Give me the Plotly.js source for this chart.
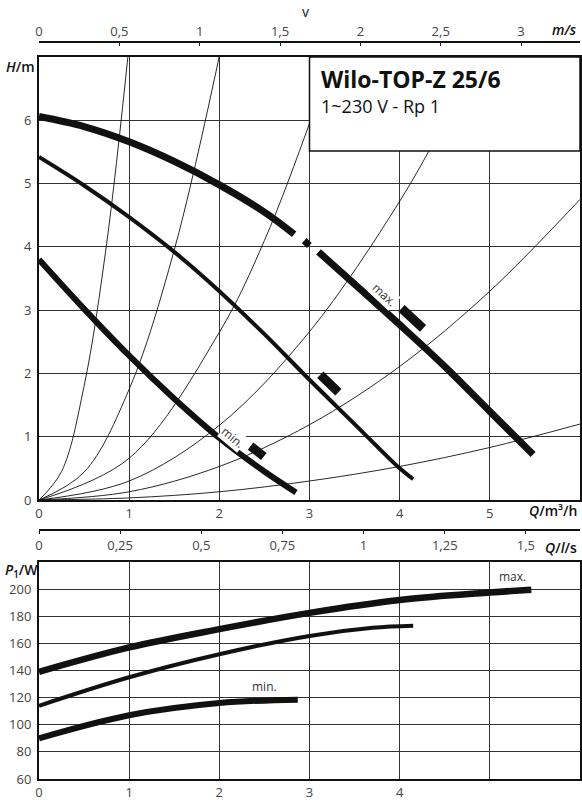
<!DOCTYPE html>
<html><head><meta charset="utf-8">
<script src="https://cdn.plot.ly/plotly-3.0.1.min.js"></script>
<style>html,body{margin:0;padding:0;background:#fff}</style>
</head><body><div id="chart" style="width:582px;height:800px"></div>
<script>
// ---- tick labels ----
const qTicks = [0, 1, 2, 3, 4, 5];
const hTicks = [0, 1, 2, 3, 4, 5, 6];
const vTickVals = [0, 0.5, 1, 1.5, 2, 2.5, 3];
const vTickText = ['0', '0,5', '1', '1,5', '2', '2,5', '3'];
const lsTickVals = [0, 0.25, 0.5, 0.75, 1, 1.25, 1.5];
const lsTickText = ['0', '0,25', '0,5', '0,75', '1', '1,25', '1,5'];
const pTicks = [60, 80, 100, 120, 140, 160, 180, 200];
const pQTicks = [0, 1, 2, 3, 4];
const pQGridExtra = [5];

// ---- system curves (thin lines), Q in m3/h, H in m ----
const sys1Q = [0, 0.25, 0.5, 0.75, 1.0];
const sys1H = [0, 0.45, 1.8, 4.05, 7.2];
const sys2Q = [0, 0.5, 1.0, 1.5, 2.05];
const sys2H = [0, 0.44, 1.75, 3.95, 7.35];
const sys3Q = [0, 1, 2, 2.5, 3.0, 3.3];
const sys3H = [0, 0.66, 2.65, 4.1, 5.95, 7.2];
const sys4Q = [0, 1, 2, 3, 4, 4.5, 4.9];
const sys4H = [0, 0.3, 1.18, 2.66, 4.72, 5.98, 7.08];
const sys5Q = [0, 1, 2, 3, 4, 5, 6];
const sys5H = [0, 0.13, 0.53, 1.19, 2.11, 3.3, 4.75];
const sys6Q = [0, 1, 2, 3, 4, 5, 6];
const sys6H = [0, 0.033, 0.13, 0.3, 0.53, 0.83, 1.2];

// ---- pump curves H(Q) ----
const maxQ = [0, 0.5, 1.0, 1.5, 2.0, 2.5, 2.83, 2.97, 3.1, 3.5, 4.0, 4.5, 5.0, 5.48];
const maxH = [6.06, 5.9, 5.66, 5.35, 4.98, 4.55, 4.2, null, 3.92, 3.41, 2.77, 2.11, 1.40, 0.72];
const midQ = [0, 0.5, 1.0, 1.5, 2.0, 2.5, 3.0, 3.5, 4.0, 4.15];
const midH = [5.42, 4.97, 4.47, 3.92, 3.3, 2.62, 1.9, 1.2, 0.5, 0.33];
const minQ = [0, 0.5, 1.0, 1.5, 2.0, 2.5, 2.85];
const minH = [3.8, 3.02, 2.28, 1.6, 0.98, 0.45, 0.12];

// ---- speed markers ----
const markQ = [4.14, 3.22, 2.42];
const markH = [2.87, 1.84, 0.77];
const gapQ = [2.97];
const gapH = [4.06];

// ---- power curves P1(Q) ----
const pMaxQ = [0, 1, 2, 3, 4, 5, 5.46];
const pMaxP = [139, 157, 170.5, 182.5, 192, 197.5, 199.5];
const pMidQ = [0, 1, 2, 3, 3.7, 4.15];
const pMidP = [114, 135, 152, 165.5, 171.5, 173];
const pMinQ = [0, 1, 2, 2.87];
const pMinP = [90, 107, 116, 118.5];

const FONT = 'Open Sans, Noto Sans, sans-serif';
const thin = {color: '#111', width: 0.9, shape: 'spline'};
function sys(q, h) {
  return {x: q, y: h, type: 'scatter', mode: 'lines', line: thin, hoverinfo: 'skip', showlegend: false};
}
function thick(q, h, w, xa, ya) {
  return {x: q, y: h, type: 'scatter', mode: 'lines', xaxis: xa, yaxis: ya,
    line: {color: '#111', width: w, shape: 'spline', smoothing: 1}, connectgaps: false,
    hoverinfo: 'skip', showlegend: false};
}

const data = [
  sys(sys1Q, sys1H), sys(sys2Q, sys2H), sys(sys3Q, sys3H),
  sys(sys4Q, sys4H), sys(sys5Q, sys5H), sys(sys6Q, sys6H),
  thick(maxQ, maxH, 7, 'x', 'y'),
  thick(midQ, midH, 4, 'x', 'y'),
  thick(minQ, minH, 6, 'x', 'y'),
  {x: markQ, y: markH, type: 'scatter', mode: 'markers', hoverinfo: 'skip', showlegend: false,
   marker: {symbol: 'line-ew', color: '#111', opacity: 1, size: [21, 18, 12], angle: [43, 44, 38], line: {width: 9, color: '#111'}}},
  {x: gapQ, y: gapH, type: 'scatter', mode: 'markers', hoverinfo: 'skip', showlegend: false,
   marker: {symbol: 'square', color: '#111', opacity: 1, size: 7, angle: 43}},
  {x: [], y: [], xaxis: 'x2', yaxis: 'y', type: 'scatter', hoverinfo: 'skip', showlegend: false},
  {x: [], y: [], xaxis: 'x3', yaxis: 'y4', type: 'scatter', hoverinfo: 'skip', showlegend: false},
  thick(pMaxQ, pMaxP, 6.5, 'x4', 'y4'),
  thick(pMidQ, pMidP, 4, 'x4', 'y4'),
  thick(pMinQ, pMinP, 6, 'x4', 'y4')
];

const tickFont = {family: FONT, size: 13, color: '#444'};
const gridAx = {showgrid: true, gridcolor: '#333', gridwidth: 1, zeroline: false,
  showline: true, linecolor: '#111', linewidth: 2, mirror: true, ticks: '', tickfont: tickFont, fixedrange: true};

const layout = {
  width: 582, height: 800,
  margin: {l: 39, r: 2, t: 0, b: 0},
  paper_bgcolor: '#fff', plot_bgcolor: '#fff',
  showlegend: false,
  font: {family: FONT},
  xaxis: Object.assign({}, gridAx, {domain: [0, 1], anchor: 'y', range: [0, 6], tickvals: qTicks, ticklabelstandoff: 0}),
  yaxis: Object.assign({}, gridAx, {domain: [0.375, 0.92875], anchor: 'x', range: [0, 7], tickvals: hTicks, ticklabelstandoff: 3}),
  xaxis2: {overlaying: 'x', anchor: 'free', position: 0.9475, side: 'top', range: [0, 3.367],
    tickvals: vTickVals, ticktext: vTickText, showline: true, linecolor: '#111', linewidth: 2,
    ticks: 'inside', ticklen: 3, tickcolor: '#111', showgrid: false, zeroline: false, tickfont: tickFont, fixedrange: true},
  xaxis3: {overlaying: 'x4', anchor: 'free', position: 0.3375, side: 'bottom', range: [0, 1.6667],
    tickvals: lsTickVals, ticktext: lsTickText, showline: true, linecolor: '#111', linewidth: 2,
    ticks: 'outside', ticklen: 3, tickcolor: '#111', showgrid: false, zeroline: false, tickfont: tickFont, fixedrange: true},
  xaxis4: Object.assign({}, gridAx, {domain: [0, 1], anchor: 'y4', range: [0, 6], tickvals: pQTicks, ticklabelstandoff: 0,
    minor: {tickvals: pQGridExtra, showgrid: true, gridcolor: '#333', gridwidth: 1, ticks: ''}}),
  yaxis4: Object.assign({}, gridAx, {domain: [0.02625, 0.2975], anchor: 'x4', range: [60, 220], tickvals: pTicks, ticklabelstandoff: 3}),
  shapes: [
    {type: 'rect', xref: 'paper', yref: 'paper', x0: 0.5, x1: 1, y0: 0.81125, y1: 0.92875,
     fillcolor: '#fff', line: {color: '#111', width: 1.5}, layer: 'above'}
  ],
  annotations: [
    {text: 'Wilo-TOP-Z 25/6', xref: 'paper', yref: 'paper', x: 0.517, y: 0.90125, xanchor: 'left', yanchor: 'middle',
     showarrow: false, font: {family: FONT, size: 23, color: '#111', weight: 700}},
    {text: '1~230 V - Rp 1', xref: 'paper', yref: 'paper', x: 0.517, y: 0.8675, xanchor: 'left', yanchor: 'middle',
     showarrow: false, font: {family: FONT, size: 18, color: '#111', weight: 400}},
    {text: 'v', xref: 'paper', yref: 'paper', x: 0.4917, y: 0.986, xanchor: 'center', yanchor: 'middle',
     showarrow: false, font: {family: FONT, size: 14, color: '#111'}},
    {text: '<i>m/s</i>', xref: 'paper', yref: 'paper', x: 0.998, y: 0.9625, xanchor: 'right', yanchor: 'middle',
     showarrow: false, font: {family: FONT, size: 14, color: '#111', weight: 600}},
    {text: '<i>H</i>/m', xref: 'paper', yref: 'paper', x: -0.065, y: 0.9175, xanchor: 'left', yanchor: 'middle',
     showarrow: false, font: {family: FONT, size: 14, color: '#111', weight: 600}},
    {text: '<i>Q</i>/m³/h', xref: 'paper', yref: 'paper', x: 0.998, y: 0.36125, xanchor: 'right', yanchor: 'middle',
     showarrow: false, font: {family: FONT, size: 14, color: '#111', weight: 600}},
    {text: '<i>Q</i>/<i>l</i>/s', xref: 'paper', yref: 'paper', x: 0.998, y: 0.31625, xanchor: 'right', yanchor: 'middle',
     showarrow: false, font: {family: FONT, size: 14, color: '#111', weight: 600}},
    {text: '<i>P</i><sub>1</sub>/W', xref: 'paper', yref: 'paper', x: -0.066, y: 0.2875, xanchor: 'left', yanchor: 'middle',
     showarrow: false, font: {family: FONT, size: 14, color: '#111', weight: 600}},
    {text: 'max.', xref: 'x', yref: 'y', x: 3.83, y: 3.25, textangle: 43, showarrow: false, bgcolor: '#fff', borderpad: 0,
     font: {family: FONT, size: 12, color: '#333'}},
    {text: 'min.', xref: 'x', yref: 'y', x: 2.15, y: 0.98, textangle: 40, showarrow: false, bgcolor: '#fff', borderpad: 0,
     font: {family: FONT, size: 12, color: '#333'}},
    {text: 'max.', xref: 'x4', yref: 'y4', x: 5.25, y: 209, showarrow: false,
     font: {family: FONT, size: 12, color: '#333'}},
    {text: 'min.', xref: 'x4', yref: 'y4', x: 2.5, y: 128, showarrow: false,
     font: {family: FONT, size: 12, color: '#333'}}
  ]
};

Plotly.newPlot('chart', data, layout, {staticPlot: true, displayModeBar: false});
</script></body></html>
